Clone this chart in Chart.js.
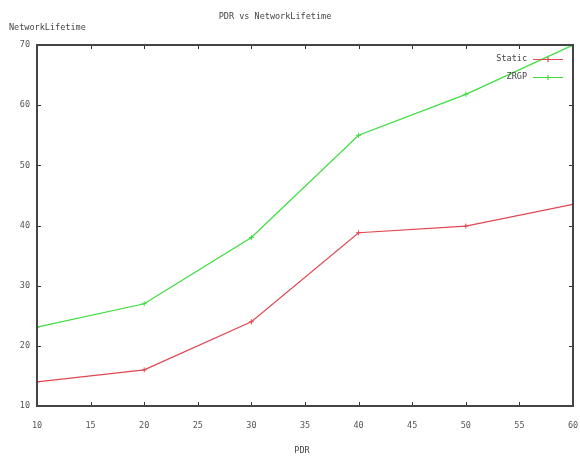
<!DOCTYPE html>
<html>
<head>
<meta charset="utf-8">
<script src="https://cdn.jsdelivr.net/npm/chart.js@4"></script>
<style>
  html, body { margin: 0; padding: 0; background: #fff; }
  #wrap { width: 580px; height: 458px; }
</style>
</head>
<body>
<div id="wrap"><canvas id="chart" width="580" height="458"></canvas></div>
<script>
"use strict";

// PDR vs NetworkLifetime — gnuplot-look line chart.

const pdr = [10, 20, 30, 40, 50, 60];
const staticLife = [14, 16, 24, 38.8, 39.9, 43.5];
const zrgpLife = [23.1, 27, 38, 55, 61.8, 70];
const seriesNames = ["Static", "ZRGP"];
const seriesColors = ["#e0474f", "#3ddc3d"];
const chartTitle = "PDR vs NetworkLifetime";
const xTitle = "PDR";
const yTitle = "NetworkLifetime";

const FONT = "'DejaVu Sans Mono', monospace";
const TEXT = "#444";

// ---- Plugins ----

// Frame, inward ticks on all four sides, titles and a gnuplot-style key.
const gnuplotLook = {
  id: "gnuplotLook",
  afterDatasetsDraw(chart) {
    const { ctx, chartArea: a, scales } = chart;
    ctx.save();
    ctx.strokeStyle = "#333";
    ctx.lineWidth = 1;
    const tick = 4;
    for (const t of scales.x.ticks) {
      const px = Math.round(scales.x.getPixelForValue(t.value)) + 0.5;
      ctx.beginPath();
      ctx.moveTo(px, a.bottom); ctx.lineTo(px, a.bottom - tick);
      ctx.moveTo(px, a.top); ctx.lineTo(px, a.top + tick);
      ctx.stroke();
    }
    for (const t of scales.y.ticks) {
      const py = Math.round(scales.y.getPixelForValue(t.value)) + 0.5;
      ctx.beginPath();
      ctx.moveTo(a.left, py); ctx.lineTo(a.left + tick, py);
      ctx.moveTo(a.right, py); ctx.lineTo(a.right - tick, py);
      ctx.stroke();
    }
    ctx.strokeStyle = "#444";
    ctx.lineWidth = 2;
    ctx.strokeRect(a.left, a.top, a.right - a.left, a.bottom - a.top);

    // key, top right inside the plot
    ctx.font = `8.5px ${FONT}`;
    ctx.textBaseline = "middle";
    ctx.textAlign = "right";
    chart.data.datasets.forEach((ds, i) => {
      const y = a.top + 14 + i * 18;
      const xEnd = a.right - 10;
      const xStart = xEnd - 30;
      ctx.fillStyle = TEXT;
      ctx.fillText(ds.label, xStart - 6, y);
      ctx.strokeStyle = seriesColors[i];
      ctx.lineWidth = 1.2;
      ctx.beginPath();
      ctx.moveTo(xStart, y + 0.5); ctx.lineTo(xEnd, y + 0.5);
      ctx.moveTo(xStart + 15, y - 2); ctx.lineTo(xStart + 15, y + 3);
      ctx.stroke();
    });

    // titles
    ctx.fillStyle = TEXT;
    ctx.textAlign = "center";
    ctx.font = `8.5px ${FONT}`;
    ctx.fillText(chartTitle, 275, 17);
    ctx.fillText(xTitle, 302, 451);
    ctx.textAlign = "left";
    ctx.fillText(yTitle, 9, 28);
    ctx.restore();
  },
};

// ---- Chart ----

new Chart(document.getElementById("chart"), {
  type: "line",
  data: {
    datasets: [
      {
        label: seriesNames[0],
        data: pdr.map((x, i) => ({ x, y: staticLife[i] })),
        borderColor: seriesColors[0],
        backgroundColor: seriesColors[0],
      },
      {
        label: seriesNames[1],
        data: pdr.map((x, i) => ({ x, y: zrgpLife[i] })),
        borderColor: seriesColors[1],
        backgroundColor: seriesColors[1],
      },
    ],
  },
  options: {
    responsive: false,
    animation: false,
    layout: { padding: { left: 0, right: 7, top: 45, bottom: 0 } },
    elements: {
      line: { borderWidth: 1.2, tension: 0 },
      point: { pointStyle: "cross", radius: 2.5, borderWidth: 1 },
    },
    plugins: { legend: { display: false }, title: { display: false }, tooltip: { enabled: false } },
    scales: {
      x: {
        type: "linear",
        min: 10, max: 60,
        ticks: { stepSize: 5, padding: 15, color: "#555", font: { family: FONT, size: 8.5 } },
        grid: { display: false, drawTicks: false },
        border: { display: false },
        afterFit(scale) { scale.height = 52; scale.paddingLeft = 0; scale.paddingRight = 0; },
      },
      y: {
        type: "linear",
        min: 10, max: 70,
        ticks: { stepSize: 10, padding: 7, color: "#555", font: { family: FONT, size: 8.5 } },
        grid: { display: false, drawTicks: false },
        border: { display: false },
        afterFit(scale) { scale.width = 37; },
      },
    },
  },
  plugins: [gnuplotLook],
});
</script>
</body>
</html>
